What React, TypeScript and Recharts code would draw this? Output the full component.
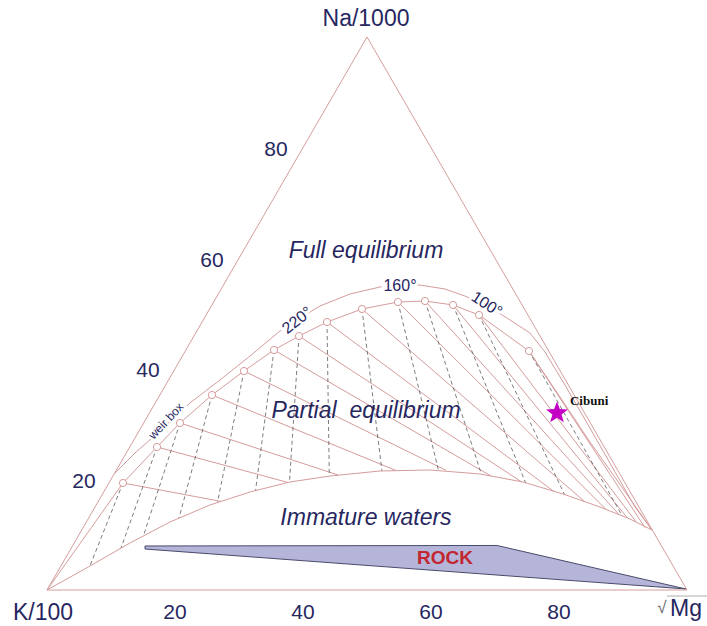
import React from 'react';
import { ComposedChart, Scatter, XAxis, YAxis } from 'recharts';

// Ternary points are given as [Na %, Mg %] (K % = 100 - Na - Mg)
type T = [number, number];

const triangleEdge: T[] = [[0, 0], [0, 100], [100, 0], [0, 0]];

// outer curve ("weir box" full equilibrium)
const weirBoxCurve: T[] = [
  [20.98, 0], [24.77, 1.36], [28.75, 3.28], [33.82, 5.43], [37.97, 8.04], [42.31, 10.56],
  [46.84, 12.99], [49.19, 14.94], [51.36, 16.98], [53.53, 20.58], [54.79, 24.63], [55.24, 27.54],
  [55.15, 30.7], [54.43, 34.97], [53.16, 38.73], [51.36, 43.07], [49.19, 47.29], [46.47, 52.23],
  [43.04, 56.29], [37.07, 62.4], [29.29, 70.19], [21.34, 78.08], [15.01, 84.38], [10.85, 89.1],
];

// temperature points on the full equilibrium curve
const tempPoints: T[] = [
  [19.35, 2.2], [25.86, 4.26], [30.2, 5.68], [35.26, 8.15], [39.6, 10.98], [43.4, 13.77],
  [45.93, 16.41], [48.46, 19.52], [50.81, 23.81], [52.08, 28.8], [52.26, 32.93], [51.54, 37.67],
  [49.73, 42.64], [43.22, 53.7],
];

const fullEqCurve: T[] = [
  [0, 0], ...tempPoints, [34.9, 62.71], [26.76, 71.46], [18.81, 80.29], [10.85, 89.1],
];

const immatureCurve: T[] = [
  [0, 0], [4.34, 4.55], [8.5, 8.72], [12.3, 13.07], [15.37, 17.78], [17.72, 22.86], [19.53, 28.2],
  [20.61, 33.91], [21.52, 41.27], [21.7, 48.99], [20.98, 57.17], [19.53, 64.61], [17.36, 71.95],
  [15.01, 78.9], [12.84, 84.67], [10.85, 89.1],
];

// K-Na isotherm ends (solid) and K-Mg isotherm ends (dashed) on the immature curve
const knaEnds: T[] = [
  [16.02, 19.18], [19.44, 27.94], [20.8, 35.07], [21.61, 43.72], [21.65, 51.52], [20.61, 59.07],
  [19.62, 64.25], [17.81, 70.31], [16.09, 75.86], [14.58, 80.05], [13.65, 82.55], [13.02, 84.19],
  [12.35, 85.86], [11.28, 87.8],
];
const kmgEnds: T[] = [
  [4.41, 4.52], [7.59, 7.77], [9.76, 10.18], [13.02, 14.12], [15.84, 18.72], [17.97, 23.6],
  [19.51, 28.13], [20.6, 33.81], [21.52, 41.58], [21.57, 50.39], [20.92, 57.43], [19.39, 65.09],
  [17.27, 72.23], [13.38, 83.2],
];

const rockPolygon: T[] = [[7.96, 11.33], [8.05, 66.29], [0.18, 99.75], [7.41, 11.61], [7.96, 11.33]];

const samplePoint: T = [32.01, 63.68];
const sampleName = 'Cibuni';

const naTicks = [20, 40, 60, 80];
const mgTicks = [20, 40, 60, 80];

const regionLabels: { p: T; text: string }[] = [
  { p: [61.48, 19.1], text: 'Full equilibrium' },
  { p: [32.55, 33.57], text: 'Partial  equilibrium' },
  { p: [13.2, 43.24], text: 'Immature waters' },
];
const tempLabels: { p: T; text: string; angle: number }[] = [
  { p: [48.82, 14.65], text: '220°', angle: -38 },
  { p: [55.15, 27.58], text: '160°', angle: 0 },
  { p: [51.72, 42.89], text: '100°', angle: 33 },
];
const weirLabel: { p: T; text: string } = { p: [30.56, 3.31], text: 'weir box' };
const rockLabel: { p: T; text: string } = { p: [5.79, 59.3], text: 'ROCK' };

const toXY = ([na, mg]: T) => ({ x: mg + na / 2, y: na });
const pts = (arr: T[]) => arr.map(toXY);

const ROSE = '#d59c9c';
const NAVY = '#27275f';
const FONT = '"Liberation Sans", Arial, sans-serif';

const Empty = () => <g />;

const CircleShape = (p: any) => (
  <circle cx={p.cx} cy={p.cy} r={3.6} fill="#fff" stroke={ROSE} strokeWidth={1} />
);

const StarShape = (p: any) => {
  const R = 11.5;
  const r = 4.8;
  const list: string[] = [];
  for (let i = 0; i < 10; i++) {
    const a = -Math.PI / 2 + (i * Math.PI) / 5;
    const rr = i % 2 === 0 ? R : r;
    list.push(`${p.cx + rr * Math.cos(a)},${p.cy + rr * Math.sin(a)}`);
  }
  return <polygon points={list.join(' ')} fill="#c400c4" />;
};

const W = 707;
const H = 626;

export default function App() {
  const vertexData = [
    { ...toXY([100, 0]), label: 'Na/1000', dx: -1, dy: -19 },
    { ...toXY([0, 0]), label: 'K/100', dx: -4, dy: 22 },
  ];
  return (
    <div style={{ position: 'absolute', left: 0, top: 0, width: W, height: H, background: '#fff' }}>
      <ComposedChart width={W} height={H} margin={{ top: 37, right: 20, bottom: 36, left: 47 }}>
        <XAxis type="number" dataKey="x" domain={[0, 100]} hide />
        <YAxis type="number" dataKey="y" domain={[0, 100]} hide />

        <Scatter data={pts(rockPolygon)} line={{ stroke: '#4a4a6a', strokeWidth: 1, fill: '#b5b5da' }} shape={Empty} isAnimationActive={false} />

        {tempPoints.map((tp, i) => (
          <Scatter key={`kna${i}`} data={pts([tp, knaEnds[i]])} line={{ stroke: ROSE, strokeWidth: 1 }} shape={Empty} isAnimationActive={false} />
        ))}
        {tempPoints.map((tp, i) => (
          <Scatter key={`kmg${i}`} data={pts([tp, kmgEnds[i]])} line={{ stroke: '#5a5a5a', strokeWidth: 0.8, strokeDasharray: '4 3' }} shape={Empty} isAnimationActive={false} />
        ))}

        <Scatter data={pts(triangleEdge)} line={{ stroke: ROSE, strokeWidth: 1 }} shape={Empty} isAnimationActive={false} />
        <Scatter data={pts(weirBoxCurve)} line={{ stroke: ROSE, strokeWidth: 1 }} shape={Empty} isAnimationActive={false} />
        <Scatter data={pts(fullEqCurve)} line={{ stroke: ROSE, strokeWidth: 1 }} shape={Empty} isAnimationActive={false} />
        <Scatter data={pts(immatureCurve)} line={{ stroke: ROSE, strokeWidth: 1 }} shape={Empty} isAnimationActive={false} />

        <Scatter data={pts(tempPoints)} shape={CircleShape} isAnimationActive={false} />

        <Scatter
          data={tempLabels.map((l) => ({ ...toXY(l.p), label: l.text, angle: l.angle }))}
          isAnimationActive={false}
          shape={(p: any) => (
            <text
              x={p.cx}
              y={p.cy}
              transform={`rotate(${p.payload.angle} ${p.cx} ${p.cy})`}
              textAnchor="middle"
              dominantBaseline="central"
              fontFamily={FONT}
              fontSize={16}
              fill={NAVY}
              stroke="#fff"
              strokeWidth={6}
              paintOrder="stroke"
            >
              {p.payload.label}
            </text>
          )}
        />
        <Scatter
          data={[{ ...toXY(weirLabel.p), label: weirLabel.text }]}
          isAnimationActive={false}
          shape={(p: any) => (
            <text
              x={p.cx}
              y={p.cy}
              transform={`rotate(-47 ${p.cx} ${p.cy})`}
              textAnchor="middle"
              dominantBaseline="central"
              fontFamily={FONT}
              fontSize={12}
              fill={NAVY}
              stroke="#fff"
              strokeWidth={4}
              paintOrder="stroke"
            >
              {p.payload.label}
            </text>
          )}
        />
        <Scatter
          data={regionLabels.map((l) => ({ ...toXY(l.p), label: l.text }))}
          isAnimationActive={false}
          shape={(p: any) => (
            <text
              x={p.cx}
              y={p.cy}
              textAnchor="middle"
              dominantBaseline="central"
              fontFamily={FONT}
              fontStyle="italic"
              fontSize={23}
              fill={NAVY}
              style={{ whiteSpace: 'pre' }}
            >
              {p.payload.label}
            </text>
          )}
        />
        <Scatter
          data={[{ ...toXY(rockLabel.p), label: rockLabel.text }]}
          isAnimationActive={false}
          shape={(p: any) => (
            <text x={p.cx} y={p.cy} textAnchor="middle" dominantBaseline="central" fontFamily={FONT} fontWeight="bold" fontSize={19} fill="#c3262f">
              {p.payload.label}
            </text>
          )}
        />

        <Scatter data={[{ ...toXY(samplePoint), label: sampleName }]} shape={StarShape} isAnimationActive={false} />
        <Scatter
          data={[{ ...toXY(samplePoint), label: sampleName }]}
          isAnimationActive={false}
          shape={(p: any) => (
            <text x={p.cx + 13} y={p.cy - 8} fontFamily='"Liberation Serif", "Times New Roman", serif' fontWeight="bold" fontSize={13} fill="#111">
              {p.payload.label}
            </text>
          )}
        />

        <Scatter
          data={naTicks.map((v) => ({ ...toXY([v, 0]), label: String(v) }))}
          isAnimationActive={false}
          shape={(p: any) => (
            <text x={p.cx - 27} y={p.cy + 1} textAnchor="middle" dominantBaseline="central" fontFamily={FONT} fontSize={21} fill={NAVY}>
              {p.payload.label}
            </text>
          )}
        />
        <Scatter
          data={mgTicks.map((v) => ({ ...toXY([0, v]), label: String(v) }))}
          isAnimationActive={false}
          shape={(p: any) => (
            <text x={p.cx} y={p.cy + 21} textAnchor="middle" dominantBaseline="central" fontFamily={FONT} fontSize={21} fill={NAVY}>
              {p.payload.label}
            </text>
          )}
        />
        <Scatter
          data={vertexData}
          isAnimationActive={false}
          shape={(p: any) => (
            <text x={p.cx + p.payload.dx} y={p.cy + p.payload.dy} textAnchor="middle" dominantBaseline="central" fontFamily={FONT} fontSize={23} fill={NAVY}>
              {p.payload.label}
            </text>
          )}
        />
        <Scatter
          data={[{ ...toXY([0, 100]), label: 'Mg' }]}
          isAnimationActive={false}
          shape={(p: any) => (
            <g>
              <text x={p.cx - 25} y={p.cy + 17} textAnchor="middle" dominantBaseline="central" fontFamily={FONT} fontSize={17} fill="#666">
                √
              </text>
              <line x1={p.cx - 20} y1={p.cy + 6} x2={p.cx + 20} y2={p.cy + 6} stroke="#999" strokeWidth={0.8} />
              <text x={p.cx - 17} y={p.cy + 18} dominantBaseline="central" fontFamily={FONT} fontSize={23} fill={NAVY}>
                {p.payload.label}
              </text>
            </g>
          )}
        />
      </ComposedChart>
    </div>
  );
}
